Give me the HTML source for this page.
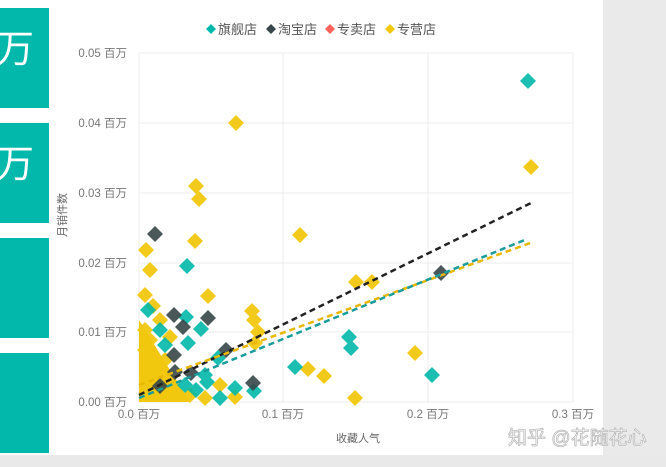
<!DOCTYPE html>
<html><head><meta charset="utf-8"><style>
body{margin:0;width:666px;height:467px;overflow:hidden;background:#fff;font-family:"Liberation Sans","Noto Sans CJK SC",sans-serif;}
</style></head><body>
<svg width="666" height="467" xmlns="http://www.w3.org/2000/svg" style="position:absolute;left:0;top:0">
<defs>
<path id="d" d="M0,-8 L8,0 L0,8 L-8,0Z"/>
<path id="s" d="M0,-5 L5,0 L0,5 L-5,0Z"/>
</defs>
<rect x="0" y="0" width="666" height="467" fill="#fff"/>
<rect x="0" y="455" width="666" height="12" fill="#e9e9e9"/>
<rect x="603" y="0" width="63" height="455" fill="#eaeaea"/>
<rect x="0" y="8" width="49" height="100" fill="#01b8aa"/>
<rect x="0" y="123" width="49" height="100" fill="#01b8aa"/>
<rect x="0" y="238" width="49" height="100" fill="#01b8aa"/>
<rect x="0" y="353" width="49" height="100" fill="#01b8aa"/>
<text x="-4" y="62" font-size="38" fill="#fff">万</text>
<text x="-4" y="177" font-size="38" fill="#fff">万</text>
<g stroke="#ececec" stroke-width="1">
<line x1="139" y1="53" x2="573" y2="53"/><line x1="139" y1="123" x2="573" y2="123"/>
<line x1="139" y1="193" x2="573" y2="193"/><line x1="139" y1="263" x2="573" y2="263"/>
<line x1="139" y1="332" x2="573" y2="332"/><line x1="139" y1="402" x2="573" y2="402"/>
<line x1="139" y1="53" x2="139" y2="402"/><line x1="283" y1="53" x2="283" y2="402"/>
<line x1="428" y1="53" x2="428" y2="402"/><line x1="573" y1="53" x2="573" y2="402"/>
</g>
<g font-size="11.5" fill="#777" text-anchor="end">
<text x="127" y="57">0.05 百万</text><text x="127" y="127">0.04 百万</text>
<text x="127" y="197">0.03 百万</text><text x="127" y="267">0.02 百万</text>
<text x="127" y="336">0.01 百万</text><text x="127" y="406">0.00 百万</text>
</g>
<g font-size="11.5" fill="#777" text-anchor="middle">
<text x="139" y="418">0.0 百万</text><text x="283" y="418">0.1 百万</text>
<text x="428" y="418">0.2 百万</text><text x="573" y="418">0.3 百万</text>
</g>
<text x="358" y="442" font-size="11" fill="#666" text-anchor="middle">收藏人气</text>
<text transform="translate(66,215) rotate(-90)" font-size="11" fill="#666" text-anchor="middle">月销件数</text>
<g font-size="13" fill="#555">
<use href="#s" x="211" y="29" fill="#01b8aa"/>
<text x="218" y="34">旗舰店</text>
<use href="#s" x="271" y="29" fill="#374649"/>
<text x="278" y="34">淘宝店</text>
<use href="#s" x="330" y="29" fill="#fd625e"/>
<text x="337" y="34">专卖店</text>
<use href="#s" x="390" y="29" fill="#f2c80f"/>
<text x="397" y="34">专营店</text>
</g>
<polygon points="139,320 139,402 190,402 170,370" fill="#f2c80f"/>
<g fill="#f2c80f" opacity="0.95">
<use href="#d" x="236" y="123"/><use href="#d" x="196" y="186"/><use href="#d" x="199" y="199"/>
<use href="#d" x="146" y="250"/><use href="#d" x="150" y="270"/><use href="#d" x="195" y="241"/>
<use href="#d" x="300" y="235"/><use href="#d" x="208" y="296"/><use href="#d" x="145" y="295"/>
<use href="#d" x="153" y="306"/><use href="#d" x="252" y="311"/><use href="#d" x="254" y="320"/>
<use href="#d" x="258" y="332"/><use href="#d" x="145" y="330"/><use href="#d" x="356" y="282"/>
<use href="#d" x="372" y="282"/><use href="#d" x="531" y="167"/><use href="#d" x="415" y="353"/>
<use href="#d" x="324" y="376"/><use href="#d" x="308" y="369"/><use href="#d" x="355" y="398"/>
<use href="#d" x="235" y="397"/><use href="#d" x="220" y="385"/><use href="#d" x="145" y="350"/>
<use href="#d" x="160" y="320"/><use href="#d" x="150" y="340"/><use href="#d" x="165" y="360"/>
<use href="#d" x="190" y="395"/><use href="#d" x="205" y="398"/><use href="#d" x="255" y="343"/>
<use href="#d" x="170" y="337"/>
</g>
<g fill="#01b8aa" opacity="0.9">
<use href="#d" x="528" y="81"/><use href="#d" x="187" y="266"/><use href="#d" x="432" y="375"/>
<use href="#d" x="349" y="337"/><use href="#d" x="351" y="348"/><use href="#d" x="295" y="367"/>
<use href="#d" x="186" y="317"/><use href="#d" x="201" y="329"/><use href="#d" x="188" y="343"/>
<use href="#d" x="218" y="358"/><use href="#d" x="207" y="382"/><use href="#d" x="220" y="398"/>
<use href="#d" x="205" y="375"/><use href="#d" x="235" y="388"/><use href="#d" x="254" y="391"/>
<use href="#d" x="160" y="330"/><use href="#d" x="148" y="310"/><use href="#d" x="185" y="385"/>
<use href="#d" x="165" y="345"/><use href="#d" x="196" y="390"/>
</g>
<g fill="#374649" opacity="0.9">
<use href="#d" x="155" y="234"/><use href="#d" x="174" y="315"/><use href="#d" x="208" y="318"/>
<use href="#d" x="183" y="327"/><use href="#d" x="174" y="355"/><use href="#d" x="191" y="373"/>
<use href="#d" x="226" y="350"/><use href="#d" x="441" y="273"/><use href="#d" x="253" y="383"/>
<use href="#d" x="175" y="372"/><use href="#d" x="160" y="386"/>
</g>
<line x1="139" y1="395" x2="533" y2="202" stroke="#222" stroke-width="2.5" stroke-dasharray="6,4"/>
<line x1="139" y1="385" x2="533" y2="242" stroke="#e8b800" stroke-width="2.5" stroke-dasharray="6,4"/>
<line x1="139" y1="398" x2="527" y2="239" stroke="#1a9c9c" stroke-width="2.5" stroke-dasharray="6,4"/>
<text x="508" y="444" font-size="19" fill="#fff" stroke="#bbb" stroke-width="0.8">知乎 @花随花心</text>
</svg>
</body></html>
